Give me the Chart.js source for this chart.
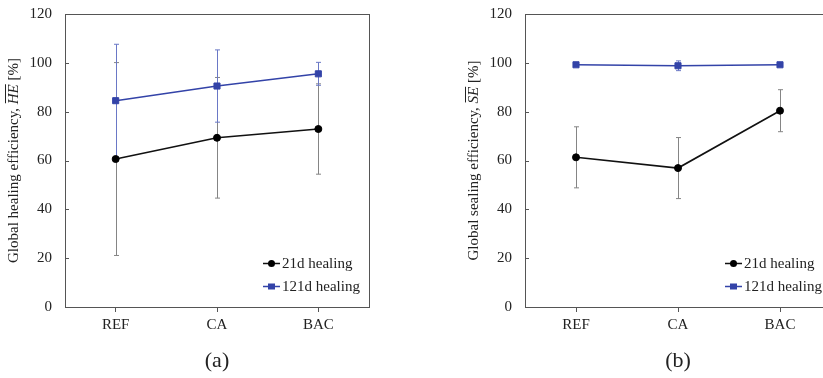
<!DOCTYPE html>
<html>
<head>
<meta charset="utf-8">
<script src="https://cdn.jsdelivr.net/npm/chart.js@4.4.0/dist/chart.umd.min.js"></script>
<style>
html, body { margin: 0; padding: 0; background: #fff; overflow: hidden; width: 823px; height: 378px; }
#wa { position: absolute; left: 0; top: 0; width: 412px; height: 378px; }
#wb { position: absolute; left: 412px; top: 0; width: 430px; height: 378px; }
</style>
</head>
<body>
<div id="wa"><canvas id="chartA"></canvas></div>
<div id="wb"><canvas id="chartB"></canvas></div>
<script>
// Data
var categories = ['REF', 'CA', 'BAC']
var seriesNames = ['21d healing', '121d healing']
// (a) global healing efficiency
var heal21 = [60.6, 69.3, 72.9]
var heal21Err = [39.5, 24.7, 18.5]
var heal121 = [84.5, 90.5, 95.5]
var heal121Err = [23.1, 14.8, 4.7]
// (b) global sealing efficiency
var seal21 = [61.3, 56.9, 80.4]
var seal21Err = [12.5, 12.5, 8.6]
var seal121 = [99.2, 98.8, 99.2]
var seal121Err = [0.4, 2.0, 0.4]

var FONT = "'Liberation Serif', 'Times New Roman', serif"
var BLUE = '#3343a8'

// error bars, frame, inward ticks, legend and y title
var extras = {
    id: 'extras',
    beforeDatasetsDraw: function(chart) {
        var ctx = chart.ctx, x = chart.scales.x, y = chart.scales.y
        chart.data.datasets.forEach(function(ds) {
            ctx.save()
            ctx.strokeStyle = ds.errColor
            ctx.lineWidth = 1
            ds.data.forEach(function(v, i) {
                var px = Math.round(x.getPixelForValue(i)) + 0.5
                var hi = y.getPixelForValue(v + ds.err[i])
                var lo = y.getPixelForValue(v - ds.err[i])
                ctx.beginPath()
                ctx.moveTo(px, hi); ctx.lineTo(px, lo)
                ctx.moveTo(px - 2.5, hi); ctx.lineTo(px + 2.5, hi)
                ctx.moveTo(px - 2.5, lo); ctx.lineTo(px + 2.5, lo)
                ctx.stroke()
            })
            ctx.restore()
        })
    },
    afterDraw: function(chart, args, opts) {
        var ctx = chart.ctx, a = chart.chartArea, y = chart.scales.y
        ctx.save()
        // frame
        ctx.strokeStyle = '#555'
        ctx.lineWidth = 1
        ctx.strokeRect(Math.round(a.left) + 0.5, Math.round(a.top) + 0.5,
            Math.round(a.right - a.left), Math.round(a.bottom - a.top))
        // inward y ticks
        ctx.beginPath()
        y.ticks.forEach(function(t) {
            var py = Math.round(y.getPixelForValue(t.value)) + 0.5
            ctx.moveTo(a.left, py); ctx.lineTo(a.left + 4, py)
        })
        ctx.stroke()

        // legend
        ctx.font = '15px ' + FONT
        ctx.textBaseline = 'middle'
        chart.data.datasets.forEach(function(ds, i) {
            var ly = Math.round(a.bottom - 44 + i * 23) + 0.5
            var lx = a.right - 106
            ctx.strokeStyle = ds.borderColor
            ctx.lineWidth = 1.5
            ctx.beginPath(); ctx.moveTo(lx, ly); ctx.lineTo(lx + 17, ly); ctx.stroke()
            ctx.fillStyle = ds.pointBackgroundColor
            if (ds.pointStyle === 'rect') {
                ctx.fillRect(lx + 5, ly - 3, 7, 6)
            } else {
                ctx.beginPath(); ctx.arc(lx + 8.5, ly, 3.5, 0, Math.PI * 2); ctx.fill()
            }
            ctx.fillStyle = '#222'
            ctx.fillText(ds.label, lx + 19, ly + 1)
        })

        // rotated y title with overlined italic symbol
        var parts = opts.title
        var cx = a.left - 52, cy = (a.top + a.bottom) / 2
        ctx.translate(cx, cy)
        ctx.rotate(-Math.PI / 2)
        ctx.textBaseline = 'alphabetic'
        var total = 0
        parts.forEach(function(p) {
            ctx.font = (p.italic ? 'italic ' : '') + '15px ' + FONT
            p.w = ctx.measureText(p.t).width
            total += p.w
        })
        var tx = -total / 2
        ctx.fillStyle = '#222'
        ctx.strokeStyle = '#222'
        ctx.lineWidth = 1
        parts.forEach(function(p) {
            ctx.font = (p.italic ? 'italic ' : '') + '15px ' + FONT
            ctx.fillText(p.t, tx, 5)
            if (p.over) {
                ctx.beginPath(); ctx.moveTo(tx + 1, -7.5); ctx.lineTo(tx + p.w, -7.5); ctx.stroke()
            }
            tx += p.w
        })
        ctx.restore()
    }
}

function makeChart(id, d21, e21, d121, e121, yWidth, padRight, label, title) {
    var ctx = document.getElementById(id).getContext('2d')
    return new Chart(ctx, {
        type: 'line',
        data: {
            labels: categories,
            datasets: [{
                label: seriesNames[0],
                data: d21,
                err: e21,
                errColor: '#858585',
                borderColor: '#111',
                borderWidth: 1.6,
                pointStyle: 'circle',
                pointRadius: 3.5,
                pointBorderWidth: 1,
                pointBackgroundColor: '#000',
                pointBorderColor: '#000',
            }, {
                label: seriesNames[1],
                data: d121,
                err: e121,
                errColor: '#6a78c6',
                borderColor: BLUE,
                borderWidth: 1.6,
                pointStyle: 'rect',
                pointRadius: 4.3,
                pointBorderWidth: 1,
                pointBackgroundColor: BLUE,
                pointBorderColor: BLUE,
            }]
        },
        options: {
            responsive: true,
            maintainAspectRatio: false,
            animation: false,
            layout: { padding: { top: 14, right: padRight, left: 0, bottom: 0 } },
            plugins: {
                legend: { display: false },
                tooltip: { enabled: false },
                extras: { title: title },
            },
            scales: {
                x: {
                    offset: true,
                    grid: { display: true, drawOnChartArea: false, drawTicks: true, tickLength: 5, color: '#555' },
                    border: { display: false },
                    ticks: { color: '#222', font: { family: FONT, size: 15 }, padding: 4 },
                    title: { display: true, text: label, color: '#222', font: { family: FONT, size: 22 }, padding: { top: 0, bottom: 4 } },
                    afterFit: function(s) { s.height = 71 },
                },
                y: {
                    min: 0,
                    max: 120,
                    ticks: { stepSize: 20, color: '#222', font: { family: FONT, size: 15 }, padding: 13 },
                    grid: { display: false, drawTicks: false },
                    border: { display: false },
                    afterFit: function(s) {
                        s.width = yWidth
                        s.paddingTop = 9
                        s.paddingBottom = 9
                    },
                }
            }
        },
        plugins: [extras]
    })
}

makeChart('chartA', heal21, heal21Err, heal121, heal121Err, 65, 43, '(a)',
    [{ t: 'Global healing efficiency, ' }, { t: 'HE', italic: true, over: true }, { t: ' [%]' }])
makeChart('chartB', seal21, seal21Err, seal121, seal121Err, 113, 11, '(b)',
    [{ t: 'Global sealing efficiency, ' }, { t: 'SE', italic: true, over: true }, { t: ' [%]' }])
</script>
</body>
</html>
